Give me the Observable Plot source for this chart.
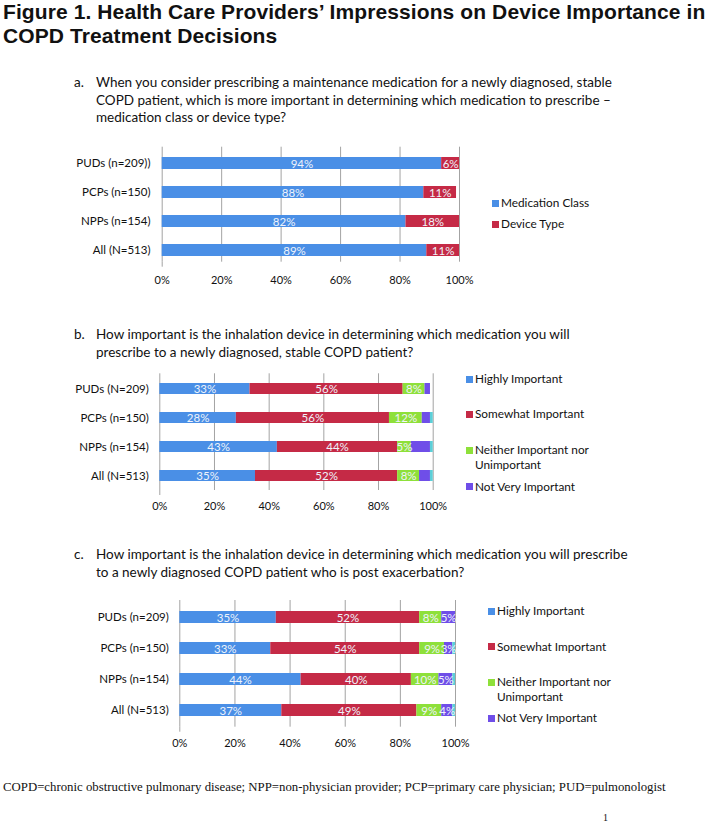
<!DOCTYPE html>
<html><head><meta charset="utf-8">
<script src="https://cdn.jsdelivr.net/npm/d3@7"></script>
<script src="https://cdn.jsdelivr.net/npm/@observablehq/plot@0.6"></script>
<style>
body{margin:0;background:#fff;}
#page{position:relative;width:728px;height:822px;overflow:hidden;background:#fff;color:#111;}
.abs{position:absolute;white-space:nowrap;}
.title{font-family:"Liberation Sans",Arial,sans-serif;font-weight:bold;font-size:21px;line-height:24px;letter-spacing:0.1px;}
.q{font-family:Lato,sans-serif;font-size:13.5px;line-height:17.5px;color:#111;}
.leg{font-family:Lato,sans-serif;font-size:11.8px;line-height:15px;color:#111;}
.sw{position:absolute;width:7px;height:7px;}
.foot{font-family:"Liberation Serif",serif;font-size:12.8px;color:#111;}
.chart{position:absolute;left:0;}
.chart svg{display:block;}
</style></head><body><div id="page"></div>
<script>
// ---------- DATA ----------
const titleLines = ["Figure 1. Health Care Providers’ Impressions on Device Importance in", "COPD Treatment Decisions"];

const questionA = ["When you consider prescribing a maintenance medication for a newly diagnosed, stable",
  "COPD patient, which is more important in determining which medication to prescribe –",
  "medication class or device type?"];
const groupsA = ["PUDs (n=209))", "PCPs (n=150)", "NPPs (n=154)", "All (N=513)"];
const seriesA = ["Medication Class", "Device Type"];
const medicationClassA = [94, 88, 82, 89];
const deviceTypeA = [6, 11, 18, 11];

const questionB = ["How important is the inhalation device in determining which medication you will",
  "prescribe to a newly diagnosed, stable COPD patient?"];
const groupsB = ["PUDs (N=209)", "PCPs (n=150)", "NPPs (n=154)", "All (N=513)"];
const seriesBC = ["Highly Important", "Somewhat Important", "Neither Important nor Unimportant", "Not Very Important", "Not at All Important"];
const highlyB = [33, 28, 43, 35];
const somewhatB = [56, 56, 44, 52];
const neitherB = [8, 12, 5, 8];
const notVeryB = [2, 3, 7, 4];
const notAtAllB = [0, 1, 1, 1];

const questionC = ["How important is the inhalation device in determining which medication you will prescribe",
  "to a newly diagnosed COPD patient who is post exacerbation?"];
const groupsC = ["PUDs (n=209)", "PCPs (n=150)", "NPPs (n=154)", "All (N=513)"];
const highlyC = [35, 33, 44, 37];
const somewhatC = [52, 54, 40, 49];
const neitherC = [8, 9, 10, 9];
const notVeryC = [5, 3, 5, 4];
const notAtAllC = [0, 1, 1, 1];

const xTicks = [0, 20, 40, 60, 80, 100];
const footnote = "COPD=chronic obstructive pulmonary disease; NPP=non-physician provider; PCP=primary care physician; PUD=pulmonologist";

// ---------- STYLE ----------
const colorsA = ["#4a8fe6", "#c52a46"];
const colorsBC = ["#4a8fe6", "#c52a46", "#8ee03a", "#6f4ee8", "#5ccfd8"];
const gridColor = "#a3a3a3";

const page = document.getElementById("page");
function add(cls, html, left, top, extra) {
  const d = document.createElement("div");
  d.className = "abs " + cls;
  d.style.left = left + "px"; d.style.top = top + "px";
  if (extra) Object.assign(d.style, extra);
  d.innerHTML = html;
  page.appendChild(d);
  return d;
}

add("title", titleLines.join("<br>"), 3, 0);

function question(letter, lines, top) {
  add("q", letter + ".", 74, top);
  add("q", lines.join("<br>"), 96, top);
}
question("a", questionA, 74);
question("b", questionB, 326);
question("c", questionC, 546);

function legend(series, colors, left, items) {
  series.forEach((s, i) => {
    if (!items[i]) return;
    const [cy, label] = items[i];
    const sw = document.createElement("div");
    sw.className = "sw";
    sw.style.left = left + "px"; sw.style.top = (cy - 3.5) + "px";
    sw.style.background = colors[i];
    page.appendChild(sw);
    add("leg", label, left + 9, cy - 8);
  });
}

function rows(groups, seriesNames, arrays) {
  const out = [];
  groups.forEach((g, gi) => arrays.forEach((arr, si) => out.push({group: g, series: seriesNames[si], si, value: arr[gi]})));
  return out;
}

function panel({data, groups, series, colors, svgTop, frameLeft, frameRight, frameTop, frameBottom, centers, barH, labelPad, tickPad, labeledCount, height}) {
  const width = 480;
  const s = (centers[3] - centers[0]) / 3;
  const R = frameBottom - frameTop;
  const pi = 1 - barH / s;
  const po = (R / s - 4 + pi) / 2;
  const align = (centers[0] - barH / 2 - frameTop) / (R - s * (4 - pi));
  const chart = Plot.plot({
    width, height,
    marginLeft: frameLeft, marginRight: width - frameRight,
    marginTop: frameTop - svgTop, marginBottom: svgTop + height - frameBottom,
    style: {fontFamily: "Lato, sans-serif", fontSize: "11.5px", color: "#111", background: "transparent"},
    x: {domain: [0, 100]},
    y: {domain: groups, paddingInner: pi, paddingOuter: po, align},
    color: {domain: series, range: colors},
    marks: [
      Plot.gridX(xTicks, {stroke: gridColor, strokeOpacity: 1, strokeWidth: 1}),
      Plot.axisX({ticks: [0], tickSize: 5, stroke: gridColor, strokeOpacity: 1, tickFormat: () => "", label: null}),
      Plot.axisX({ticks: xTicks, tickSize: 0, tickPadding: tickPad, tickFormat: d => d + "%", label: null, fontSize: 11}),
      Plot.axisY({tickSize: 0, tickPadding: labelPad, label: null, fontSize: 11.5}),
      Plot.barX(data, Plot.stackX({x: "value", y: "group", fill: "series", z: "series", order: series})),
      Plot.text(data, Plot.stackX({x: "value", y: "group", z: "series", order: series,
        text: d => d.si < labeledCount && d.value > 0 ? d.value + "%" : null,
        fill: "#eef3fb", fontSize: 11.5, dy: 0.5}))
    ]
  });
  const wrap = document.createElement("div");
  wrap.className = "chart";
  wrap.style.top = svgTop + "px";
  wrap.appendChild(chart);
  page.appendChild(wrap);
}

panel({
  data: rows(groupsA, seriesA, [medicationClassA, deviceTypeA]),
  groups: groupsA, series: seriesA, colors: colorsA,
  svgTop: 140, frameLeft: 161.7, frameRight: 459, frameTop: 146.7, frameBottom: 261.7,
  centers: [161.7, 191, 220.3, 250], barH: 12, labelPad: 11.7, tickPad: 13.5, labeledCount: 2, height: 160
});
legend(seriesA, colorsA, 492, [[203, seriesA[0]], [224, seriesA[1]]]);

panel({
  data: rows(groupsB, seriesBC, [highlyB, somewhatB, neitherB, notVeryB, notAtAllB]),
  groups: groupsB, series: seriesBC, colors: colorsBC,
  svgTop: 366, frameLeft: 159.3, frameRight: 432.7, frameTop: 373.3, frameBottom: 490,
  centers: [388, 416.7, 446, 475], barH: 10.7, labelPad: 11, tickPad: 12, labeledCount: 3, height: 150
});
legend(seriesBC, colorsBC, 466, [[379, "Highly Important"], [414.3, "Somewhat Important"], [450, "Neither Important nor<br>Unimportant"], [486.7, "Not Very Important"]]);

panel({
  data: rows(groupsC, seriesBC, [highlyC, somewhatC, neitherC, notVeryC, notAtAllC]),
  groups: groupsC, series: seriesBC, colors: colorsBC,
  svgTop: 592, frameLeft: 179.3, frameRight: 455, frameTop: 600, frameBottom: 726.7,
  centers: [616, 648.3, 680, 711.7], barH: 12.7, labelPad: 11, tickPad: 12, labeledCount: 4, height: 160
});
legend(seriesBC, colorsBC, 488, [[611, "Highly Important"], [646.7, "Somewhat Important"], [682.3, "Neither Important nor<br>Unimportant"], [718.3, "Not Very Important"]]);

add("foot", footnote, 3, 780);
add("foot", "1", 603, 812, {fontSize: "10px"});
</script></body></html>
